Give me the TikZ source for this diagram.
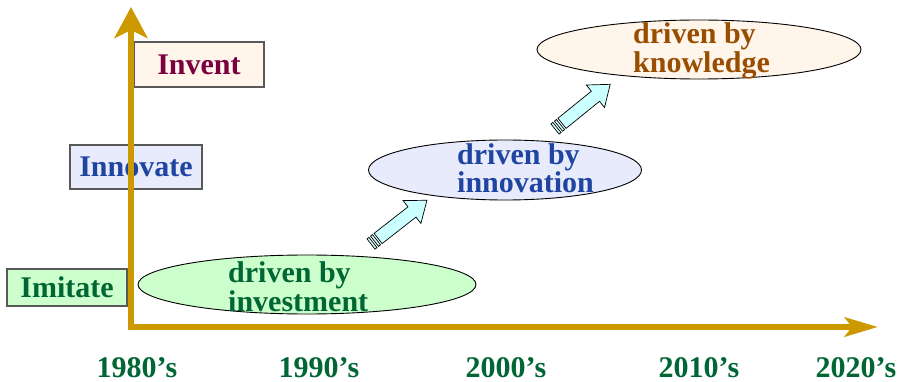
\documentclass[tikz,border=0pt]{standalone}
\usepackage{fontspec}
\setmainfont{Liberation Serif}
\usetikzlibrary{arrows.meta,shapes.geometric}
\definecolor{gold}{HTML}{CC9900}
\definecolor{inventfill}{HTML}{FFF5EA}
\definecolor{inventtext}{HTML}{7A0040}
\definecolor{innofill}{HTML}{E8EBFC}
\definecolor{innotext}{HTML}{1F45A0}
\definecolor{imfill}{HTML}{CCFFCC}
\definecolor{imtext}{HTML}{006633}
\definecolor{knowtext}{HTML}{994D00}
\definecolor{arrowfill}{HTML}{CCFFFF}
\newcommand\stripedarrow[3]{%
  \begin{scope}[shift={(#1,#2)},rotate=#3]
    \filldraw[barrow] (0,-6.5) rectangle (2.5,6.5);
    \filldraw[barrow] (4.5,-6.5) rectangle (7,6.5);
    \filldraw[barrow] (9,-6.5) -- (52,-6.5) -- (52,-14.5) -- (71,0) -- (52,14.5) -- (52,6.5) -- (9,6.5) -- cycle;
  \end{scope}}
\begin{document}
\begin{tikzpicture}[x=1pt,y=-1pt,
  lbl/.style={font=\fontsize{30}{30}\selectfont\bfseries, inner sep=0pt},
  yearlbl/.style={lbl, text=imtext, anchor=base, text depth=0pt},
  levelbox/.style={draw=black!65, line width=1.2pt, inner sep=0pt, font=\fontsize{30}{30}\selectfont\bfseries},
  phase/.style={ellipse, draw=black, line width=0.9pt, inner sep=0pt},
  barrow/.style={fill=arrowfill, draw=black, line width=0.7pt, line join=miter},
  axis/.style={draw=gold, line width=6.5pt}]
\useasboundingbox (0,0) rectangle (902,382);
% level boxes
\node[levelbox, fill=inventfill, text=inventtext, minimum width=130pt, minimum height=45pt] (invent) at (199,64.5) {Invent};
\node[levelbox, fill=innofill, text=innotext, minimum width=132pt, minimum height=44pt] (innovate) at (136,167) {Innovate};
\node[levelbox, fill=imfill, text=imtext, minimum width=120pt, minimum height=37pt] (imitate) at (67,287.5) {Imitate};
% axes
\coordinate (corner) at (131,330);
\coordinate (ytop) at (131,7);
\coordinate (xstart) at (128,327);
\coordinate (xend) at (878,327);
\draw[axis, -{Stealth[length=31pt,width=33pt,inset=8pt]}] (corner) -- (ytop);
\draw[axis, -{Stealth[length=33pt,width=19pt,inset=7pt]}] (xstart) -- (xend);
% ellipses
\node[phase, fill=imfill, minimum width=338pt, minimum height=59pt] (investE) at (307,284.5) {};
\node[phase, fill=innofill, minimum width=273pt, minimum height=60pt] (innovE) at (505,170) {};
\node[phase, fill=inventfill, minimum width=324pt, minimum height=59pt] (knowE) at (699,49.5) {};
% ellipse texts
\node[lbl, text=imtext, anchor=base west] (inv1) at (228,282) {driven by};
\node[lbl, text=imtext, anchor=base west] (inv2) at (228,311) {investment};
\node[lbl, text=innotext, anchor=base west] (inn1) at (457,165) {driven by};
\node[lbl, text=innotext, anchor=base west] (inn2) at (457,193) {innovation};
\node[lbl, text=knowtext, anchor=base west] (kn1) at (633,44) {driven by};
\node[lbl, text=knowtext, anchor=base west] (kn2) at (633,73) {knowledge};
% block arrows
\stripedarrow{371}{244}{38}
\stripedarrow{555}{129}{39}
% years
\node[yearlbl] (y1980) at (137,377) {1980’s};
\node[yearlbl] (y1990) at (319,377) {1990’s};
\node[yearlbl] (y2000) at (506,377) {2000’s};
\node[yearlbl] (y2010) at (699,377) {2010’s};
\node[yearlbl] (y2020) at (856,377) {2020’s};
\end{tikzpicture}
\end{document}
